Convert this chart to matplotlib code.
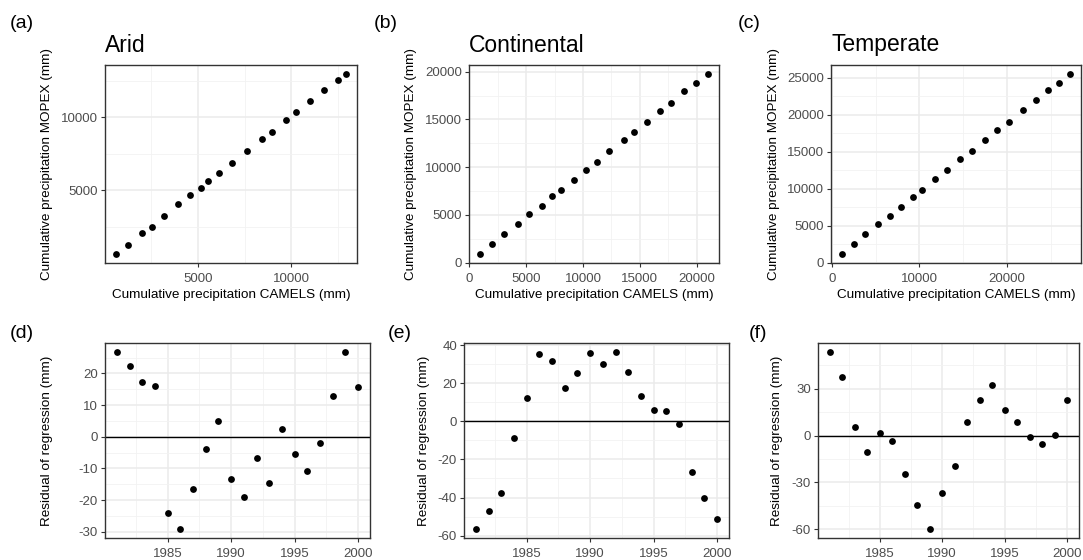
import numpy as np
import matplotlib
matplotlib.use("Agg")
import matplotlib.pyplot as plt
from matplotlib.ticker import MultipleLocator

plt.rcParams['font.family'] = ['Liberation Sans', 'DejaVu Sans']
plt.rcParams['axes.unicode_minus'] = False

# cumulative precipitation, CAMELS (x) vs MOPEX (y), mm
arid_camels = [661, 1286, 2036, 2536, 3214, 3929, 4607, 5161, 5571, 6125,
               6804, 7625, 8411, 8946, 9696, 10268, 11018, 11768, 12482, 12893]
arid_mopex = [642, 1239, 2087, 2500, 3257, 4037, 4702, 5183, 5642, 6216,
              6881, 7729, 8509, 9014, 9862, 10367, 11124, 11881, 12546, 12982]
cont_camels = [963, 2015, 3036, 4263, 5285, 6394, 7299, 8088, 9226, 10248,
               11241, 12263, 13635, 14511, 15650, 16759, 17781, 18891, 19912, 20964]
cont_mopex = [944, 1958, 3007, 4021, 5070, 5979, 6993, 7657, 8671, 9685,
              10594, 11643, 12797, 13671, 14720, 15874, 16748, 17937, 18846, 19755]
temp_camels = [1212, 2500, 3826, 5265, 6629, 7917, 9242, 10265, 11742, 13182,
               14659, 15985, 17424, 18864, 20227, 21856, 23295, 24621, 25909, 27121]
temp_mopex = [1221, 2577, 3888, 5199, 6374, 7550, 8861, 9901, 11392, 12568,
              14014, 15190, 16546, 17902, 19033, 20660, 22061, 23373, 24367, 25542]

# residuals of regression by year, mm
years = list(range(1981, 2001))
arid_resid = [26.8, 22.2, 17.2, 16.0, -24.2, -29.2, -16.6, -3.9, 5.0, -13.5,
              -18.9, -6.6, -14.6, 2.3, -5.4, -10.7, -2.0, 13.0, 26.8, 15.6]
cont_resid = [-56.6, -47.1, -37.4, -8.8, 12.1, 35.2, 31.9, 17.3, 25.6, 35.8,
              30.1, 36.5, 26.1, 13.5, 5.9, 5.2, -1.2, -26.7, -40.0, -51.4]
temp_resid = [53.7, 37.8, 5.3, -10.4, 1.5, -3.2, -24.9, -44.6, -60.0, -36.6,
              -19.6, 8.5, 22.6, 32.5, 16.3, 8.5, -0.8, -5.5, 0.6, 22.6]

W, H = 1083, 560
fig = plt.figure(figsize=(W / 100, H / 100), dpi=100)

TICK_FS = 9.5
LAB_FS = 9.7


def px_rect(l, r, t, b):
    return [l / W, 1 - b / H, (r - l) / W, (b - t) / H]


def style(ax, xmaj, xmin, ymaj, ymin):
    ax.xaxis.set_major_locator(MultipleLocator(xmaj))
    ax.xaxis.set_minor_locator(MultipleLocator(xmin))
    ax.yaxis.set_major_locator(MultipleLocator(ymaj))
    ax.yaxis.set_minor_locator(MultipleLocator(ymin))
    ax.grid(True, which='major', color='#EBEBEB', lw=1.1, zorder=0)
    ax.grid(True, which='minor', color='#F2F2F2', lw=0.6, zorder=0)
    ax.set_axisbelow(True)
    for s in ax.spines.values():
        s.set_color('#333333')
        s.set_linewidth(1.0)
    ax.tick_params(which='major', length=3, width=0.8, color='#333333',
                   labelsize=TICK_FS, labelcolor='#4D4D4D', pad=2)
    ax.tick_params(axis='x', which='major', pad=4)
    ax.tick_params(which='minor', length=0)


def expand(v, f=0.05, floor=None):
    lo, hi = min(v), max(v)
    d = (hi - lo) * f
    lo, hi = lo - d, hi + d
    if floor is not None:
        lo = min(lo, floor)
    return lo, hi


top = [
    ("(a)", "Arid", arid_camels, arid_mopex, (105, 357), 5000, 5000, 10, 47, None),
    ("(b)", "Continental", cont_camels, cont_mopex, (469, 719), 5000, 5000, 374, 411, -30),
    ("(c)", "Temperate", temp_camels, temp_mopex, (831, 1081), 10000, 5000, 738, 774, -30),
]
for lab, title, xs, ys, (l, r), xmaj, ymaj, lx, ylx, floor in top:
    ax = fig.add_axes(px_rect(l, r, 65, 263))
    ax.scatter(xs, ys, s=24, color='black', zorder=3, linewidths=0)
    ax.set_xlim(*expand(xs, floor=floor))
    ax.set_ylim(*expand(ys, floor=floor))
    style(ax, xmaj, xmaj / 2, ymaj, ymaj / 2)
    ax.set_xlabel("Cumulative precipitation CAMELS (mm)", fontsize=LAB_FS)
    ax.set_ylabel("Cumulative precipitation MOPEX (mm)", fontsize=LAB_FS)
    ax.xaxis.set_label_coords(0.5, -(289 - 263) / (263 - 65))
    ax.yaxis.set_label_coords(-(l - ylx - 6) / (r - l), 0.5)
    fig.text(l / W, 1 - 45 / H, title, fontsize=16.5, va='center', ha='left')
    fig.text(lx / W, 1 - 24 / H, lab, fontsize=14, va='center', ha='left')

bottom = [
    ("(d)", arid_resid, (105, 370), 10, 10, 47),
    ("(e)", cont_resid, (464, 729), 20, 388, 424),
    ("(f)", temp_resid, (818, 1079), 30, 749, 777),
]
for lab, res, (l, r), ymaj, lx, ylx in bottom:
    ax = fig.add_axes(px_rect(l, r, 343, 538))
    ax.axhline(0, color='black', lw=1.0, zorder=2)
    ax.scatter(years, res, s=24, color='black', zorder=3, linewidths=0)
    ax.set_xlim(*expand(years))
    ax.set_ylim(*expand(res))
    style(ax, 5, 2.5, ymaj, ymaj / 2)
    ax.set_ylabel("Residual of regression (mm)", fontsize=LAB_FS)
    ax.yaxis.set_label_coords(-(l - ylx - 6) / (r - l), 0.5)
    fig.text(lx / W, 1 - 334 / H, lab, fontsize=14, va='center', ha='left')

fig.savefig("out.png", dpi=100)
